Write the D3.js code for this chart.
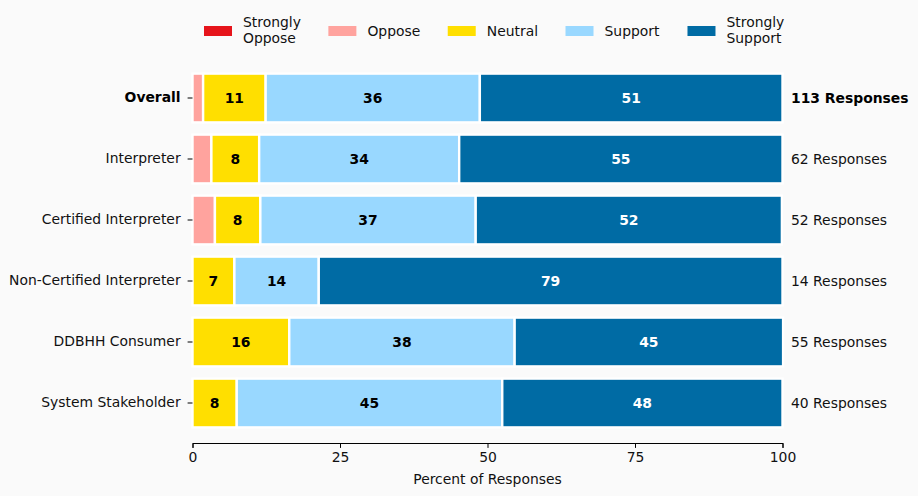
<!DOCTYPE html>
<html>
<head>
<meta charset="utf-8">
<script src="https://cdn.jsdelivr.net/npm/d3@7"></script>
<style>
  html, body { margin: 0; padding: 0; background: #fafafa; }
  svg { display: block; font-family: "DejaVu Sans", sans-serif; }
</style>
</head>
<body>
<svg id="chart" width="918" height="496"></svg>
<script>
// ---- data ----
const categories = ["Overall", "Interpreter", "Certified Interpreter", "Non-Certified Interpreter", "DDBHH Consumer", "System Stakeholder"];
const responses = [113, 62, 52, 14, 55, 40];
const seriesNames = ["Strongly Oppose", "Oppose", "Neutral", "Support", "Strongly Support"];
const stronglyOppose = [0, 0, 0, 0, 0, 0];
const oppose = [1.8, 3.2, 3.8, 0, 0, 0];
const neutral = [10.6, 8.1, 7.7, 7.1, 16.4, 7.5];
const support = [36.3, 33.9, 36.5, 14.3, 38.2, 45.0];
const stronglySupport = [51.3, 54.8, 51.9, 78.6, 45.5, 47.5];
const xTicks = [0, 25, 50, 75, 100];
const colors = ["#e6141b", "#ffa39e", "#ffdf00", "#99d8ff", "#006ba4"];
const labelColors = ["#000", "#000", "#000", "#000", "#fff"];

const seriesValues = [stronglyOppose, oppose, neutral, support, stronglySupport];
const table = categories.map((c, i) => {
  const row = { category: c };
  seriesNames.forEach((s, j) => row[s] = seriesValues[j][i]);
  return row;
});

const svg = d3.select("#chart");
const fs = 13.9;
const x = d3.scaleLinear().domain([0, 100]).range([192.5, 782.5]);
const y = d3.scaleBand().domain(categories).range([67.5, 433.5]).paddingInner(0.2).paddingOuter(0.1);

const stacked = d3.stack().keys(seriesNames)(table);

const g = svg.append("g");
stacked.forEach((layer, j) => {
  const lg = g.append("g");
  lg.selectAll("rect").data(layer).join("rect")
    .attr("x", d => x(d[0]))
    .attr("y", d => y(d.data.category))
    .attr("width", d => Math.max(0, x(d[1]) - x(d[0])))
    .attr("height", y.bandwidth())
    .attr("fill", colors[j])
    .attr("stroke", d => (d[1] - d[0]) > 0 ? "#fff" : "none")
    .attr("stroke-width", 2.4);
  lg.selectAll("text").data(layer.filter(d => (d[1] - d[0]) >= 5)).join("text")
    .attr("x", d => x((d[0] + d[1]) / 2))
    .attr("y", d => y(d.data.category) + y.bandwidth() / 2)
    .attr("dy", "0.36em")
    .attr("text-anchor", "middle")
    .attr("font-size", fs)
    .attr("font-weight", "bold")
    .attr("fill", labelColors[j])
    .text(d => Math.round(d[1] - d[0]));
});

// x axis
const xAxis = svg.append("g").attr("transform", "translate(0,443)")
  .call(d3.axisBottom(x).tickValues(xTicks).tickSize(4.9).tickPadding(4.5).tickFormat(d3.format("d")));
xAxis.select(".domain").attr("stroke", "#000").attr("stroke-width", 1);
xAxis.selectAll(".tick line").attr("stroke", "#000");
xAxis.selectAll("text").attr("font-size", fs).attr("font-family", "DejaVu Sans").attr("fill", "#111");
svg.append("text").attr("x", (x(0) + x(100)) / 2).attr("y", 484)
  .attr("text-anchor", "middle").attr("font-size", fs).attr("fill", "#111").text("Percent of Responses");

// y axis (no spine)
const yAxis = svg.append("g").attr("transform", "translate(192.5,0)")
  .call(d3.axisLeft(y).tickSize(4.9).tickPadding(7));
yAxis.select(".domain").remove();
yAxis.selectAll(".tick line").attr("stroke", "#000");
yAxis.selectAll("text").attr("font-size", fs).attr("font-family", "DejaVu Sans")
  .attr("font-weight", d => d === "Overall" ? "bold" : "normal")
  .attr("fill", d => d === "Overall" ? "#000" : "#111");

// response counts
svg.append("g").selectAll("text").data(categories).join("text")
  .attr("x", 791)
  .attr("y", d => y(d) + y.bandwidth() / 2)
  .attr("dy", "0.36em")
  .attr("font-size", fs)
  .attr("font-weight", (d, i) => i === 0 ? "bold" : "normal")
  .attr("fill", (d, i) => i === 0 ? "#000" : "#111")
  .text((d, i) => responses[i] + " Responses");

// legend
const legend = svg.append("g");
let lx = 204;
seriesNames.forEach((s, j) => {
  const item = legend.append("g");
  item.append("rect").attr("x", lx).attr("y", 26).attr("width", 28).attr("height", 10).attr("fill", colors[j]);
  const words = s.split(" ");
  const t = item.append("text").attr("x", lx + 39).attr("font-size", fs).attr("fill", "#111");
  if (words.length > 1) {
    t.append("tspan").attr("x", lx + 39).attr("y", 27).text(words[0]);
    t.append("tspan").attr("x", lx + 39).attr("y", 42.5).text(words.slice(1).join(" "));
  } else {
    t.attr("y", 36).text(s);
  }
  const w = t.node().getBBox().width;
  lx = lx + 39 + w + 27.5;
});
</script>
</body>
</html>
